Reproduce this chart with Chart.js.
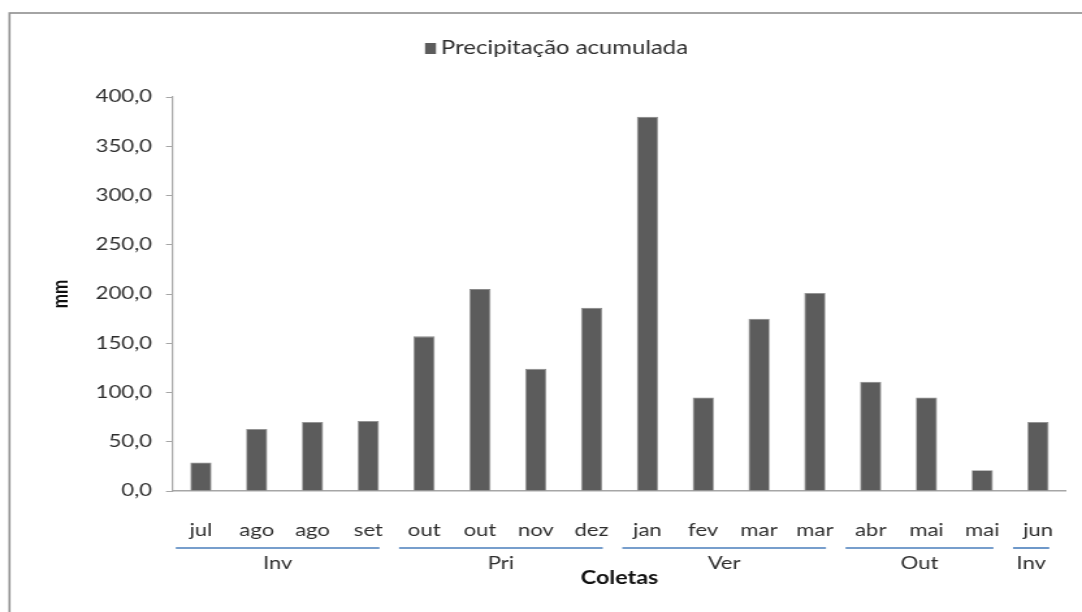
<!DOCTYPE html>
<html>
<head>
<meta charset="utf-8">
<script src="https://cdn.jsdelivr.net/npm/chart.js@4/dist/chart.umd.min.js"></script>
<style>
  html, body { margin: 0; padding: 0; background: #fff; overflow: hidden; }
</style>
</head>
<body>
<canvas id="chart" width="832" height="612" style="display:block;width:1082px;height:612px"></canvas>
<script>
const coletas = ['jul', 'ago', 'ago', 'set', 'out', 'out', 'nov', 'dez', 'jan', 'fev', 'mar', 'mar', 'abr', 'mai', 'mai', 'jun'];
const precipitacao = [29, 63, 70, 71, 157, 205, 124, 186, 380, 95, 175, 201, 111, 95, 21, 70];
const estacoes = ['Inv', 'Pri', 'Ver', 'Out', 'Inv'];
const estacaoInicio = [0, 4, 8, 12, 15];
const estacaoFim = [3, 7, 11, 14, 15];

// the source picture is stretched sideways, so the canvas is drawn narrow and widened by css
const SX = 1082 / 832;
const fx = v => v / SX;
const FONT = 'Lato';

const framePlugin = {
  id: 'frame',
  afterDraw(chart) {
    const ctx = chart.ctx;
    ctx.save();
    ctx.strokeStyle = '#8e8e8e';
    ctx.lineWidth = 1.6;
    ctx.strokeRect(fx(9.5), 13, 900, 700);
    ctx.restore();
  }
};

const legendPlugin = {
  id: 'legendBox',
  afterDraw(chart) {
    const ds = chart.data.datasets[0];
    const ctx = chart.ctx;
    ctx.save();
    ctx.fillStyle = ds.backgroundColor;
    ctx.fillRect(fx(425), 43, fx(11), 11);
    ctx.fillStyle = '#2e2e2e';
    ctx.font = '19px ' + FONT;
    ctx.textBaseline = 'middle';
    ctx.textAlign = 'left';
    ctx.fillText(ds.label, fx(441), 48, fx(247));
    ctx.restore();
  }
};

const seasonPlugin = {
  id: 'seasons',
  afterDraw(chart) {
    const x = chart.scales.x;
    const ctx = chart.ctx;
    const step = x.getPixelForValue(1) - x.getPixelForValue(0);
    ctx.save();
    ctx.font = '17px ' + FONT;
    ctx.fillStyle = '#2e2e2e';
    ctx.textAlign = 'center';
    ctx.textBaseline = 'middle';
    estacoes.forEach((nome, i) => {
      const x1 = x.getPixelForValue(estacaoInicio[i]) - step * 0.45;
      const x2 = x.getPixelForValue(estacaoFim[i]) + step * 0.2;
      ctx.strokeStyle = '#4a7ebb';
      ctx.lineWidth = 1.6;
      ctx.beginPath();
      ctx.moveTo(x1, 548);
      ctx.lineTo(x2, 548);
      ctx.stroke();
      ctx.fillText(nome, (x1 + x2) / 2, 564);
    });
    ctx.restore();
  }
};

new Chart(document.getElementById('chart'), {
  type: 'bar',
  data: {
    labels: coletas,
    datasets: [{
      label: 'Precipitação acumulada',
      data: precipitacao,
      backgroundColor: '#5c5c5c',
      borderColor: '#8a8a8a',
      borderWidth: 0.8,
      barPercentage: 0.38,
      categoryPercentage: 1
    }]
  },
  options: {
    responsive: false,
    animation: false,
    layout: {
      padding: { left: 0, top: 97, right: 832 - fx(1066), bottom: 0 }
    },
    plugins: {
      legend: { display: false },
      tooltip: { enabled: false }
    },
    scales: {
      x: {
        afterFit: scale => {
          scale.height = 612 - 491;
          scale.paddingLeft = 0;
          scale.paddingRight = 0;
        },
        grid: { display: false, drawTicks: false },
        border: { color: '#a6a6a6', width: 1.5 },
        ticks: {
          color: '#2e2e2e',
          font: { family: FONT, size: 17 },
          padding: 29,
          maxRotation: 0,
          autoSkip: false
        },
        title: {
          display: true,
          text: 'Coletas',
          color: '#111',
          font: { family: FONT, size: 18, weight: 'bold' },
          padding: { top: 0, bottom: 23 }
        }
      },
      y: {
        min: 0,
        max: 400,
        afterFit: scale => { scale.width = fx(173); },
        grid: {
          drawOnChartArea: false,
          drawTicks: true,
          tickLength: fx(7),
          color: '#a6a6a6'
        },
        border: { color: '#a6a6a6', width: 1.2 },
        ticks: {
          stepSize: 50,
          color: '#2e2e2e',
          font: { family: FONT, size: 17 },
          padding: fx(14),
          callback: v => v.toFixed(1).replace('.', ',')
        },
        title: {
          display: true,
          text: 'mm',
          color: '#111',
          font: { family: FONT, size: 17, weight: 'bold' },
          padding: { top: fx(60) - 10.2, bottom: 0 }
        }
      }
    }
  },
  plugins: [framePlugin, legendPlugin, seasonPlugin]
});
</script>
</body>
</html>
